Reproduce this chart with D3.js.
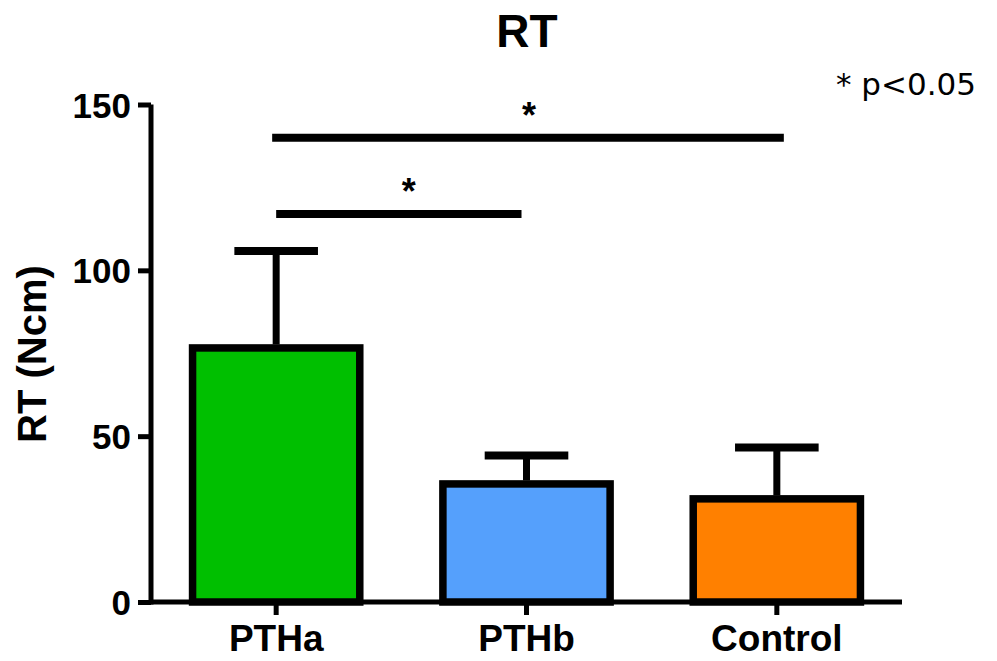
<!DOCTYPE html>
<html>
<head>
<meta charset="utf-8">
<script src="https://cdn.jsdelivr.net/npm/d3@7"></script>
<style>
  body { margin: 0; background: #fff; }
  svg { display: block; }
</style>
</head>
<body>
<svg id="chart" width="997" height="661"></svg>
<script>
// data
var groups = ["PTHa", "PTHb", "Control"];
var means = [76.6, 35.6, 31.1];
var errTop = [105.8, 44.2, 46.6];
var colors = ["#00bf00", "#55a0fc", "#ff8000"];
var yTicks = [0, 50, 100, 150];
// significance comparisons: [from, to, height]
var sigFrom = ["PTHa", "PTHa"];
var sigTo = ["PTHb", "Control"];
var sigLevel = [117, 140];

var svg = d3.select("#chart");
var boldFont = "'Liberation Sans', Arial, sans-serif";

var x = d3.scaleBand()
    .domain(groups)
    .range([151, 902])
    .paddingInner(0.332)
    .paddingOuter(0.166);

var y = d3.scaleLinear()
    .domain([0, 150])
    .range([602, 104.5]);

var bw = x.bandwidth();

// bars
svg.append("g").selectAll("rect")
    .data(groups)
    .enter()
    .append("rect")
    .attr("x", function(d){ return x(d); })
    .attr("y", function(d, i){ return y(means[i]); })
    .attr("width", bw)
    .attr("height", function(d, i){ return y(0) - y(means[i]); })
    .attr("fill", function(d, i){ return colors[i]; })
    .attr("stroke", "#000")
    .attr("stroke-width", 7.5);

// error bars (upper only)
var err = svg.append("g").attr("stroke", "#000").attr("stroke-width", 7);
groups.forEach(function(g, i){
    var cx = x(g) + bw / 2;
    err.append("line")
        .attr("x1", cx).attr("x2", cx)
        .attr("y1", y(means[i]) - 3.5).attr("y2", y(errTop[i]));
    err.append("line")
        .attr("x1", cx - bw / 4).attr("x2", cx + bw / 4)
        .attr("y1", y(errTop[i])).attr("y2", y(errTop[i]))
        .attr("stroke-width", 8);
});

// y axis
var yAxis = d3.axisLeft(y)
    .tickValues(yTicks)
    .tickSize(13)
    .tickPadding(7)
    .tickSizeOuter(0);
var gy = svg.append("g")
    .attr("transform", "translate(151,0)")
    .call(yAxis);
gy.select(".domain").attr("stroke-width", 5).attr("d", "M0," + (y(0) + 2.5) + "V" + y(150));
gy.selectAll(".tick line").attr("stroke-width", 5);
gy.selectAll(".tick text")
    .attr("font-family", boldFont)
    .attr("font-weight", "bold")
    .attr("font-size", 35)
    .attr("fill", "#000")
    .attr("dy", "0.36em");

// x axis
var xAxis = d3.axisBottom(x)
    .tickSize(13)
    .tickPadding(10)
    .tickSizeOuter(0);
var gx = svg.append("g")
    .attr("transform", "translate(0," + y(0) + ")")
    .call(xAxis);
gx.select(".domain").attr("stroke-width", 5).attr("d", "M149,0H902");
gx.selectAll(".tick line").attr("stroke-width", 5);
gx.selectAll(".tick text")
    .attr("font-family", boldFont)
    .attr("font-weight", "bold")
    .attr("font-size", 37)
    .attr("fill", "#000")
    .attr("dy", "0.71em");

// y label
svg.append("text")
    .attr("transform", "translate(46,354) rotate(-90)")
    .attr("text-anchor", "middle")
    .attr("font-family", boldFont)
    .attr("font-weight", "bold")
    .attr("font-size", 40)
    .text("RT (Ncm)");

// title
svg.append("text")
    .attr("x", 527)
    .attr("y", 47)
    .attr("text-anchor", "middle")
    .attr("font-family", boldFont)
    .attr("font-weight", "bold")
    .attr("font-size", 46)
    .text("RT");

// significance note
svg.append("text")
    .attr("x", 976)
    .attr("y", 95)
    .attr("text-anchor", "end")
    .attr("font-family", "'DejaVu Sans', sans-serif")
    .attr("font-size", 31)
    .text("* p<0.05");

// significance bars, ends nudged as in the reference
var sig = svg.append("g");
sigFrom.forEach(function(f, i){
    var x1 = x(f) + bw / 2 - (i === 1 ? 4 : 0);
    var x2 = x(sigTo[i]) + bw / 2 + (i === 1 ? 7 : -5);
    var yy = y(sigLevel[i]);
    sig.append("line")
        .attr("x1", x1).attr("x2", x2)
        .attr("y1", yy).attr("y2", yy)
        .attr("stroke", "#000")
        .attr("stroke-width", 8);
    sig.append("text")
        .attr("x", (x1 + x2) / 2 + (i === 0 ? 10 : 1))
        .attr("y", yy - 10)
        .attr("text-anchor", "middle")
        .attr("font-family", boldFont)
        .attr("font-weight", "bold")
        .attr("font-size", 36)
        .text("*");
});
</script>
</body>
</html>
